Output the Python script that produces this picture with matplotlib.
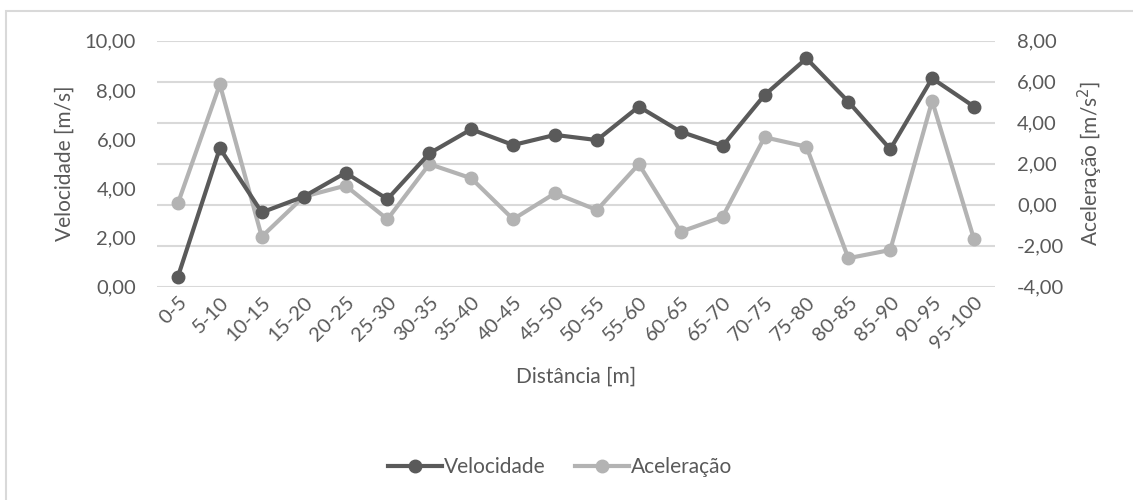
import matplotlib.pyplot as plt
from matplotlib.patches import Rectangle
from matplotlib.ticker import FuncFormatter, MultipleLocator

categorias = ["0-5", "5-10", "10-15", "15-20", "20-25", "25-30", "30-35", "35-40",
              "40-45", "45-50", "50-55", "55-60", "60-65", "65-70", "70-75", "75-80",
              "80-85", "85-90", "90-95", "95-100"]
velocidade = [0.41, 5.63, 3.02, 3.66, 4.63, 3.56, 5.42, 6.40, 5.76, 6.17,
              5.96, 7.32, 6.30, 5.72, 7.79, 9.28, 7.52, 5.59, 8.47, 7.32]
aceleracao = [0.07, 5.87, -1.56, 0.39, 0.93, -0.71, 1.98, 1.29, -0.71, 0.56,
              -0.26, 1.98, -1.32, -0.59, 3.29, 2.83, -2.61, -2.21, 5.06, -1.69]

TXT = "#595959"
C_VEL = "#5a5a5a"
C_ACE = "#b3b3b3"
GRID = "#d9d9d9"

plt.rcParams["font.family"] = ["Lato", "DejaVu Sans"]

fig = plt.figure(figsize=(11.33, 5.0), dpi=100)
ax = fig.add_axes([157 / 1133, 1 - 286.7 / 500, (995 - 157) / 1133, 246 / 500])
ax2 = ax.twinx()

x = range(len(categorias))
ax.plot(x, velocidade, color=C_VEL, lw=3, marker="o", ms=9, zorder=3,
        label="Velocidade")
ax2.plot(x, aceleracao, color=C_ACE, lw=3, marker="o", ms=9, zorder=2,
         label="Aceleração")
ax.set_zorder(ax2.get_zorder() + 1)
ax.patch.set_visible(False)

fmt = FuncFormatter(lambda v, p: f"{v:.2f}".replace(".", ","))
ax.set_ylim(0, 10)
ax.yaxis.set_major_locator(MultipleLocator(2))
ax.yaxis.set_major_formatter(fmt)
ax2.set_ylim(-4, 8)
ax2.yaxis.set_major_locator(MultipleLocator(2))
ax2.yaxis.set_major_formatter(fmt)
ax.set_xlim(-0.5, len(categorias) - 0.5)

ax.set_xticks(list(x))
ax.set_xticklabels(categorias, rotation=45, ha="right", rotation_mode="anchor")

ax2.yaxis.grid(True, color=GRID, lw=1.5)
ax2.set_axisbelow(True)

for a in (ax, ax2):
    for s in a.spines.values():
        s.set_visible(False)
    a.tick_params(length=0, colors=TXT, labelsize=14.5)
ax.tick_params(axis="y", pad=15)
ax2.tick_params(axis="y", pad=16)
ax.tick_params(axis="x", pad=5)

ax.set_ylabel("Velocidade [m/s]", color=TXT, fontsize=15, labelpad=7)
ax2.set_ylabel("Aceleração [m/s$^2$]", color=TXT, fontsize=15, labelpad=8)
ax.set_xlabel("Distância [m]", color=TXT, fontsize=15, labelpad=10)

h1, l1 = ax.get_legend_handles_labels()
h2, l2 = ax2.get_legend_handles_labels()
fig.legend(h1 + h2, l1 + l2, loc="center", bbox_to_anchor=(560 / 1133, 1 - 467 / 500),
           ncol=2, frameon=False, handlelength=2.6, columnspacing=1.4,
           handletextpad=0.1, labelcolor=TXT, fontsize=15)

# chart-area border: only top and left edges are inside the image
fig.patches.append(Rectangle((6 / 1133, -0.1), 1.2, 1.1 - 11 / 500,
                             transform=fig.transFigure, fill=False,
                             edgecolor=GRID, lw=1.5))

fig.savefig("out.png", dpi=100)
